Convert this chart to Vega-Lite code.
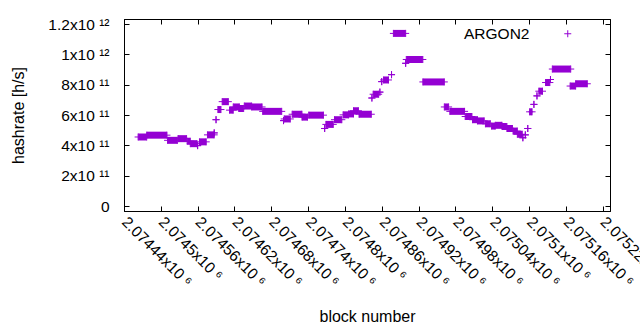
{
  "$schema": "https://vega.github.io/schema/vega-lite/v6.json",
  "width": 486,
  "height": 192,
  "autosize": {"type": "none"},
  "padding": {"left": 124, "top": 19, "right": 30, "bottom": 119},
  "background": "white",
  "config": {
    "font": "Liberation Sans",
    "view": {"stroke": "black", "strokeWidth": 1},
    "axis": {
      "domainColor": "black", "tickColor": "black", "labelColor": "black", "titleColor": "black",
      "labelFont": "Liberation Sans", "titleFont": "Liberation Sans",
      "labelFontSize": 15.5, "titleFontSize": 16, "titleFontWeight": "normal",
      "grid": false, "tickSize": -5, "labelOverlap": false, "labelFlush": false
    }
  },
  "data": {
    "values": [
      {"start": 2074463, "end": 2074477, "hashrate": 4.55e11},
      {"start": 2074477, "end": 2074510, "hashrate": 4.67e11},
      {"start": 2074511, "end": 2074527, "hashrate": 4.33e11},
      {"start": 2074528, "end": 2074542, "hashrate": 4.44e11},
      {"start": 2074543, "end": 2074548, "hashrate": 4.27e11},
      {"start": 2074548, "end": 2074559, "hashrate": 4.11e11},
      {"start": 2074560, "end": 2074560, "hashrate": 3.98e11},
      {"start": 2074563, "end": 2074574, "hashrate": 4.23e11},
      {"start": 2074576, "end": 2074587, "hashrate": 4.69e11},
      {"start": 2074587, "end": 2074587, "hashrate": 4.82e11},
      {"start": 2074590, "end": 2074590, "hashrate": 5.69e11},
      {"start": 2074593, "end": 2074598, "hashrate": 6.36e11},
      {"start": 2074600, "end": 2074610, "hashrate": 6.88e11},
      {"start": 2074612, "end": 2074618, "hashrate": 6.32e11},
      {"start": 2074618, "end": 2074628, "hashrate": 6.53e11},
      {"start": 2074627, "end": 2074635, "hashrate": 6.43e11},
      {"start": 2074636, "end": 2074648, "hashrate": 6.59e11},
      {"start": 2074648, "end": 2074665, "hashrate": 6.53e11},
      {"start": 2074666, "end": 2074697, "hashrate": 6.24e11},
      {"start": 2074700, "end": 2074700, "hashrate": 5.63e11},
      {"start": 2074701, "end": 2074711, "hashrate": 5.74e11},
      {"start": 2074714, "end": 2074730, "hashrate": 6.05e11},
      {"start": 2074730, "end": 2074739, "hashrate": 5.86e11},
      {"start": 2074741, "end": 2074765, "hashrate": 5.99e11},
      {"start": 2074767, "end": 2074767, "hashrate": 5.11e11},
      {"start": 2074769, "end": 2074781, "hashrate": 5.38e11},
      {"start": 2074783, "end": 2074795, "hashrate": 5.69e11},
      {"start": 2074797, "end": 2074806, "hashrate": 6.01e11},
      {"start": 2074806, "end": 2074814, "hashrate": 6.07e11},
      {"start": 2074814, "end": 2074822, "hashrate": 6.28e11},
      {"start": 2074823, "end": 2074843, "hashrate": 6.05e11},
      {"start": 2074844, "end": 2074844, "hashrate": 7.12e11},
      {"start": 2074846, "end": 2074855, "hashrate": 7.37e11},
      {"start": 2074857, "end": 2074857, "hashrate": 7.51e11},
      {"start": 2074860, "end": 2074860, "hashrate": 8.2e11},
      {"start": 2074863, "end": 2074871, "hashrate": 8.31e11},
      {"start": 2074876, "end": 2074876, "hashrate": 8.66e11},
      {"start": 2074879, "end": 2074899, "hashrate": 1.138e12},
      {"start": 2074899, "end": 2074899, "hashrate": 9.41e11},
      {"start": 2074900, "end": 2074927, "hashrate": 9.66e11},
      {"start": 2074927, "end": 2074962, "hashrate": 8.18e11},
      {"start": 2074962, "end": 2074969, "hashrate": 6.53e11},
      {"start": 2074971, "end": 2074995, "hashrate": 6.24e11},
      {"start": 2074996, "end": 2075007, "hashrate": 5.9e11},
      {"start": 2075008, "end": 2075016, "hashrate": 5.69e11},
      {"start": 2075016, "end": 2075027, "hashrate": 5.61e11},
      {"start": 2075029, "end": 2075037, "hashrate": 5.42e11},
      {"start": 2075039, "end": 2075045, "hashrate": 5.27e11},
      {"start": 2075045, "end": 2075056, "hashrate": 5.32e11},
      {"start": 2075056, "end": 2075064, "hashrate": 5.24e11},
      {"start": 2075064, "end": 2075073, "hashrate": 5.11e11},
      {"start": 2075074, "end": 2075081, "hashrate": 4.94e11},
      {"start": 2075081, "end": 2075089, "hashrate": 4.73e11},
      {"start": 2075090, "end": 2075090, "hashrate": 4.5e11},
      {"start": 2075094, "end": 2075094, "hashrate": 4.69e11},
      {"start": 2075098, "end": 2075098, "hashrate": 5.11e11},
      {"start": 2075101, "end": 2075105, "hashrate": 6.21e11},
      {"start": 2075108, "end": 2075108, "hashrate": 6.7e11},
      {"start": 2075113, "end": 2075113, "hashrate": 7.26e11},
      {"start": 2075116, "end": 2075122, "hashrate": 7.57e11},
      {"start": 2075127, "end": 2075134, "hashrate": 8.14e11},
      {"start": 2075135, "end": 2075135, "hashrate": 8.34e11},
      {"start": 2075138, "end": 2075168, "hashrate": 9.03e11},
      {"start": 2075167, "end": 2075176, "hashrate": 7.91e11},
      {"start": 2075176, "end": 2075195, "hashrate": 8.06e11}
    ]
  },
  "layer": [
    {
      "mark": {"type": "bar", "orient": "horizontal", "height": 7, "color": "#9400d3"},
      "encoding": {
        "x": {
          "field": "start", "type": "quantitative",
          "scale": {"domain": [2074440, 2075232], "nice": false, "zero": false},
          "axis": {
            "orient": "bottom",
            "values": [2074440, 2074500, 2074560, 2074620, 2074680, 2074740, 2074800, 2074860, 2074920, 2074980, 2075040, 2075100, 2075160, 2075220],
            "labelExpr": "format(datum.value/1e6, '.6~f') + 'x10 ⁶'",
            "labelAngle": 45, "labelAlign": "left", "labelBaseline": "middle", "labelPadding": 13,
            "title": "block number", "titleY": 110, "titleBaseline": "alphabetic"
          }
        },
        "x2": {"field": "end"},
        "y": {
          "field": "hashrate", "type": "quantitative",
          "scale": {"domain": [0, 1.2e12], "nice": false},
          "axis": {
            "orient": "left",
            "values": [0, 2e11, 4e11, 6e11, 8e11, 1e12, 1.2e12],
            "labelExpr": "datum.value == 0 ? '0' : (datum.value < 9.9e11 ? format(datum.value/1e11, '~g') + 'x10 ¹¹' : format(datum.value/1e12, '~g') + 'x10 ¹²')",
            "labelPadding": 20,
            "title": "hashrate [h/s]", "titleX": -101, "titleY": 96, "titleAngle": -90, "titleAlign": "center", "titleBaseline": "alphabetic"
          }
        }
      }
    },
    {
      "mark": {"type": "point", "shape": "M-1,0H1M0,-1V1", "size": 49, "filled": false, "strokeWidth": 1, "opacity": 1},
      "encoding": {
        "x": {"field": "start", "type": "quantitative", "axis": {"orient": "top", "labels": false, "title": null, "values": [2074440, 2074500, 2074560, 2074620, 2074680, 2074740, 2074800, 2074860, 2074920, 2074980, 2075040, 2075100, 2075160, 2075220]}},
        "y": {"field": "hashrate", "type": "quantitative", "axis": {"orient": "right", "labels": false, "title": null, "values": [0, 2e11, 4e11, 6e11, 8e11, 1e12, 1.2e12]}},
        "color": {
          "datum": "ARGON2", "type": "nominal",
          "scale": {"range": ["#9400d3"]},
          "legend": {
            "orient": "none", "legendX": 436, "legendY": 7, "title": null,
            "labelAlign": "right", "labelOffset": -46, "labelFontSize": 15.5, "labelFont": "Liberation Sans", "labelColor": "black",
            "symbolType": "M-1,0H1M0,-1V1", "symbolSize": 49, "symbolStrokeWidth": 1
          }
        }
      }
    },
    {
      "mark": {"type": "point", "shape": "M-1,0H1M0,-1V1", "size": 49, "filled": false, "strokeWidth": 1, "opacity": 1, "color": "#9400d3"},
      "encoding": {
        "x": {"field": "end", "type": "quantitative", "axis": null},
        "y": {"field": "hashrate", "type": "quantitative", "axis": null}
      }
    }
  ],
  "resolve": {"axis": {"x": "independent", "y": "independent"}}
}
